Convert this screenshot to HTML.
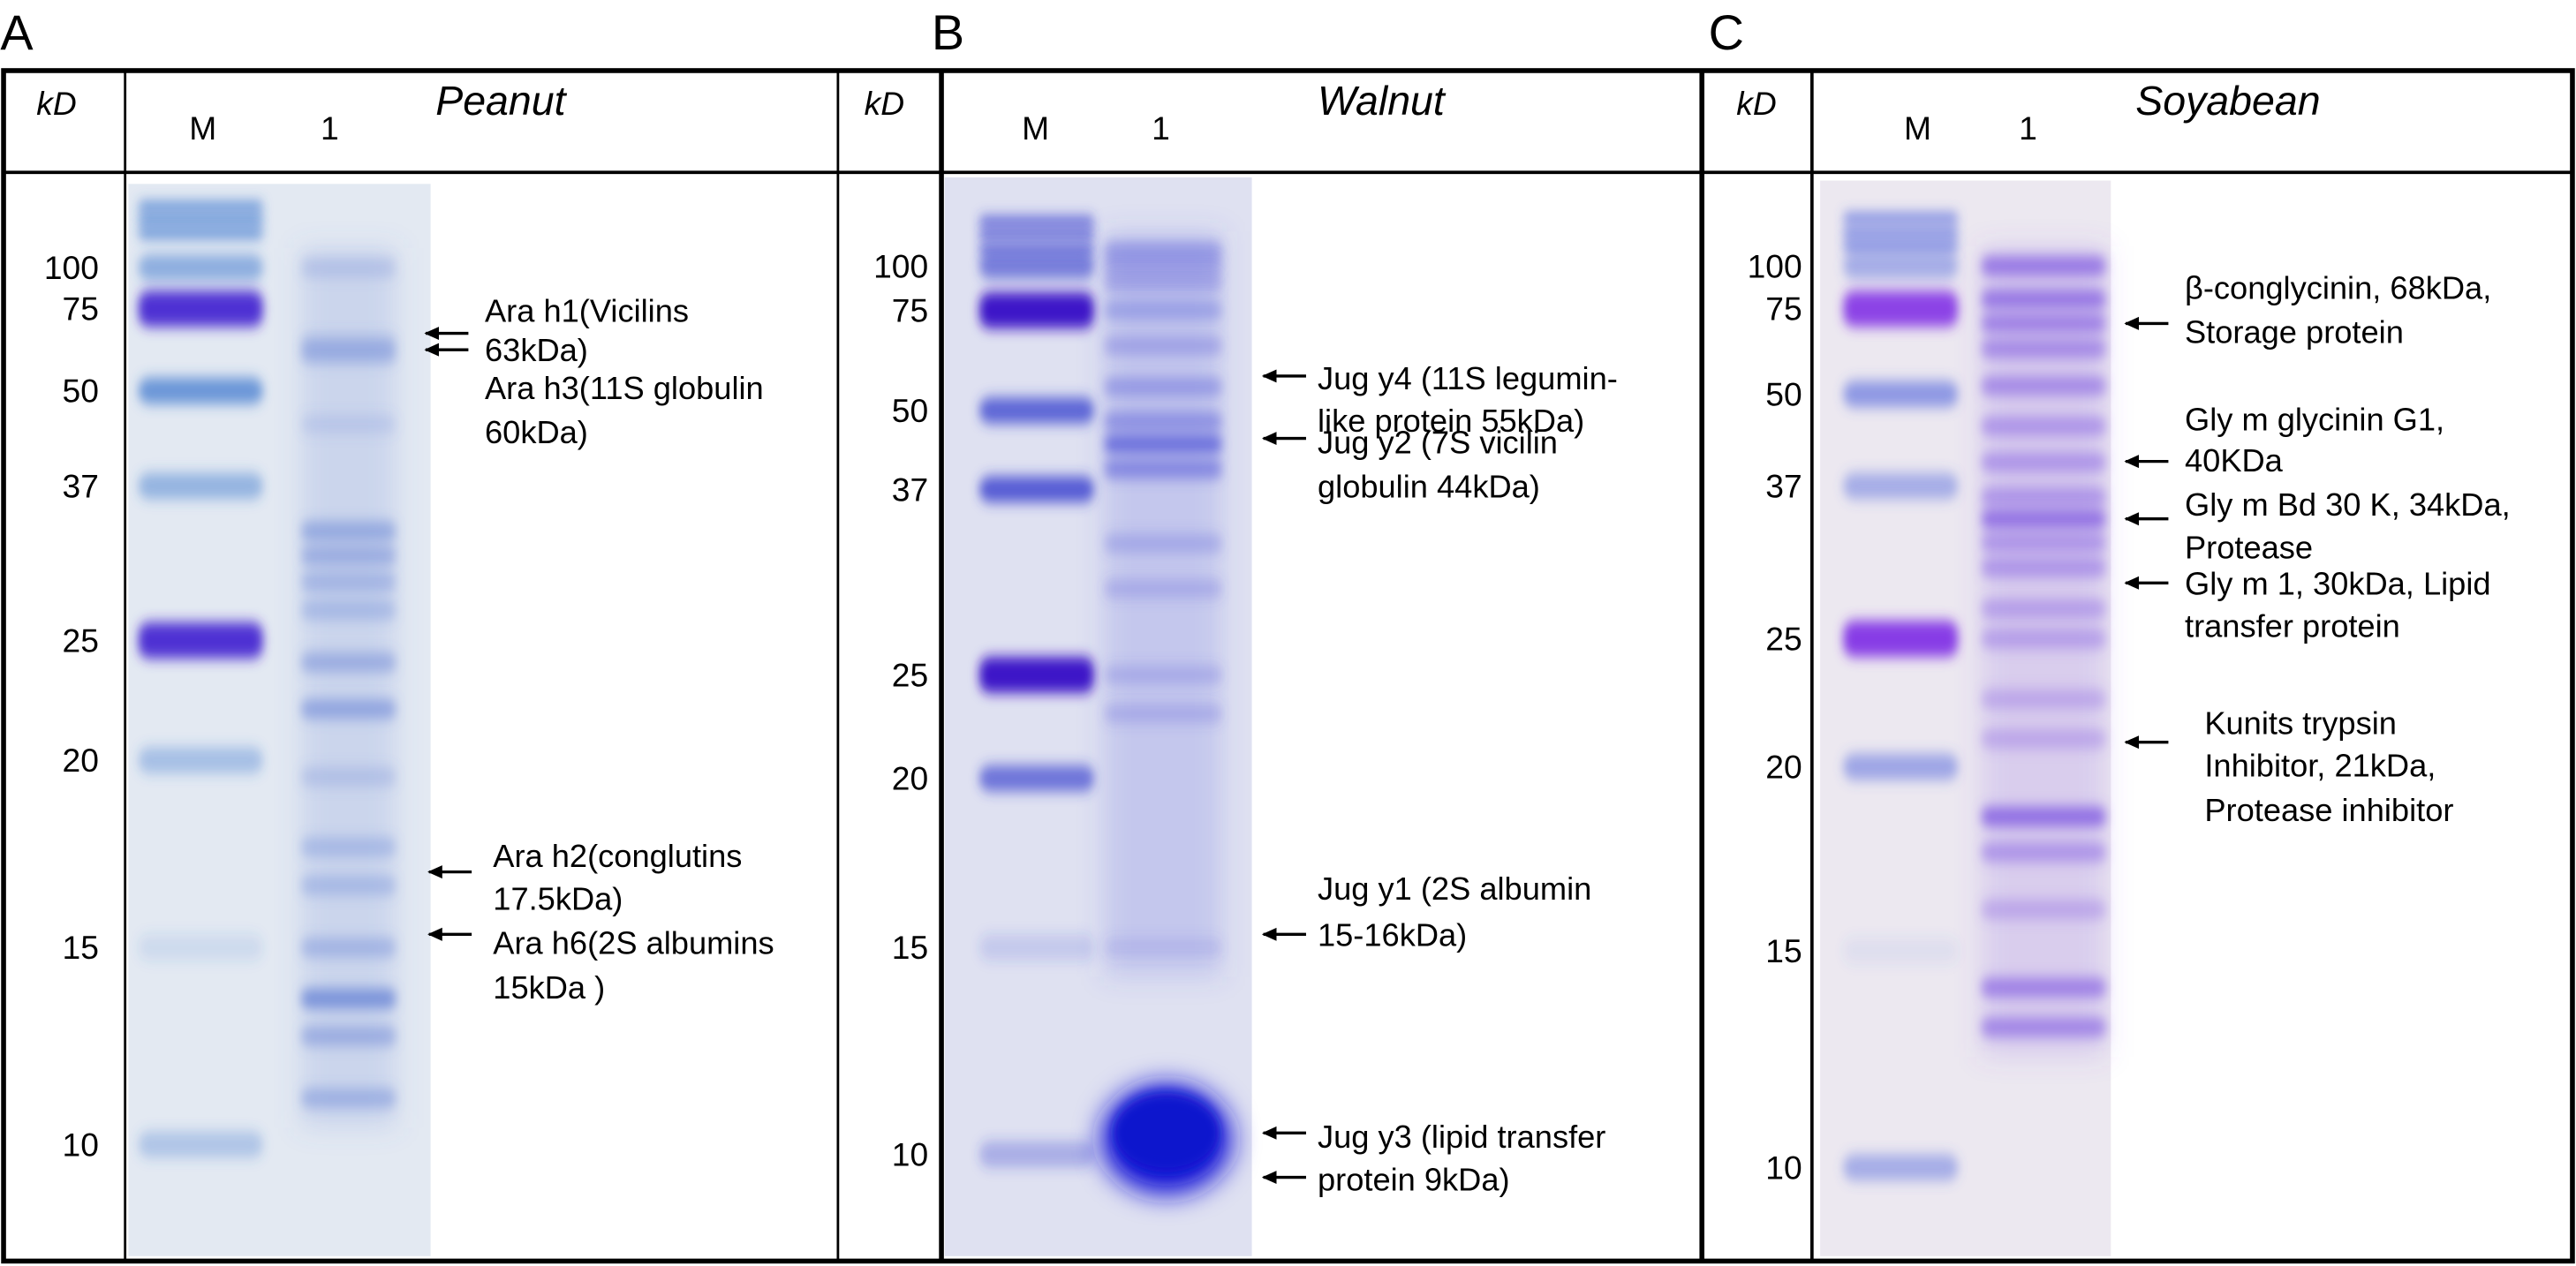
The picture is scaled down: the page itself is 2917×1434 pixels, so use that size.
<!DOCTYPE html>
<html><head><meta charset="utf-8"><style>
html,body{margin:0;padding:0;background:#fff;overflow:hidden}
svg{display:block}
text{font-family:"Liberation Sans",sans-serif;fill:#000}
</style></head><body>
<svg id="fig" width="2917" height="1434" viewBox="0 0 1568 771" xmlns="http://www.w3.org/2000/svg">
<defs>
<filter id="bl" x="-20%" y="-300%" width="140%" height="700%"><feGaussianBlur stdDeviation="3 4"/></filter>
<filter id="bl2" x="-30%" y="-100%" width="160%" height="300%"><feGaussianBlur stdDeviation="8"/></filter>
<marker id="ah" viewBox="0 0 10 10" refX="9" refY="5" markerWidth="9" markerHeight="9" markerUnits="userSpaceOnUse" orient="auto"><path d="M0,0.5 L10,5 L0,9.5 Z" fill="#000"/></marker>
</defs>
<g font-size="30">
<text x="0" y="30">A</text>
<text x="567" y="30">B</text>
<text x="1040" y="30">C</text>
</g>
<g id="gels"></g>
<g stroke="#000" fill="none">
<rect x="2" y="43" width="1564" height="725" stroke-width="3"/>
<line x1="2" y1="105" x2="1566" y2="105" stroke-width="2"/>
<line x1="76" y1="43" x2="76" y2="768" stroke-width="1.5"/>
<line x1="510" y1="43" x2="510" y2="768" stroke-width="1.5"/>
<line x1="573" y1="43" x2="573" y2="768" stroke-width="3"/>
<line x1="1036" y1="43" x2="1036" y2="768" stroke-width="3"/>
<line x1="1103" y1="43" x2="1103" y2="768" stroke-width="2"/>
</g>
<g font-size="20">
<text x="22" y="70" font-style="italic">kD</text>
<text x="115" y="85">M</text>
<text x="195" y="85">1</text>
<text x="265" y="70" font-size="25" font-style="italic">Peanut</text>
<text x="526" y="70" font-style="italic">kD</text>
<text x="622" y="85">M</text>
<text x="701" y="85">1</text>
<text x="802" y="70" font-size="25" font-style="italic">Walnut</text>
<text x="1057" y="70" font-style="italic">kD</text>
<text x="1159" y="85">M</text>
<text x="1229" y="85">1</text>
<text x="1300" y="70" font-size="25" font-style="italic">Soyabean</text>
</g>
<g id="ticks" font-size="20" text-anchor="end"></g>
<g id="notes" font-size="19.5"></g>
</svg>
<script>
const NS="http://www.w3.org/2000/svg";
const markerKD=[100,75,50,37,25,20,15,10];
const tickLabels=["100","75","50","37","25","20","15","10"];
const calA=[163,188,238,296,390,463,577,697];
const calB=[162,189,250,298,411,474,577,703];
const calC=[162,188,240,296,389,467,579,711];
const markerStrA=[0.5,0.95,0.7,0.45,0.95,0.35,0.12,0.3];
const markerStrB=[0.6,1.0,0.75,0.8,1.0,0.65,0.15,0.3];
const markerStrC=[0.45,0.9,0.6,0.45,0.95,0.5,0.08,0.45];
const sampleA=[[100,0.3],[63,0.35],[60,0.45],[45,0.2],[33,0.6],[31,0.55],[29,0.45],[27,0.4],[24,0.55],[22,0.65],[19.5,0.3],[17.5,0.4],[16.5,0.4],[15,0.45],[13.5,0.9],[12.5,0.55],[11,0.5]];
const sampleB=[[110,0.5],[100,0.4],[90,0.4],[75,0.45],[65,0.4],[55,0.5],[48,0.6],[44,0.95],[40,0.7],[33,0.35],[30,0.3],[25,0.3],[23,0.3],[15,0.18]];
const blobB=[10.3];
const sampleC=[[100,0.9],[80,0.9],[70,0.8],[62,0.7],[52,0.7],[45,0.6],[40,0.6],[36,0.6],[34,0.95],[32,0.6],[30,0.6],[27,0.5],[25,0.5],[22.5,0.4],[21,0.4],[18.5,1.0],[17.5,0.6],[16,0.4],[14,0.8],[13,0.75]];
function axis(cal){return kd=>{const k=markerKD;if(kd>=k[0])return cal[0]-(Math.log(kd)-Math.log(k[0]))/(Math.log(k[0])-Math.log(k[1]))*(cal[1]-cal[0]);
for(let i=0;i<k.length-1;i++){if(kd<=k[i]&&kd>=k[i+1]){const t=(Math.log(k[i])-Math.log(kd))/(Math.log(k[i])-Math.log(k[i+1]));return cal[i]+t*(cal[i+1]-cal[i]);}}
const n=k.length-1;return cal[n]+(Math.log(k[n])-Math.log(kd))/(Math.log(k[n-1])-Math.log(k[n]))*(cal[n]-cal[n-1]);};}
function el(t,a,p){const e=document.createElementNS(NS,t);for(const k in a)e.setAttribute(k,a[k]);p.appendChild(e);return e;}
const gels=document.getElementById("gels"),ticks=document.getElementById("ticks");
const panels=[
 {id:"a",cal:calA,ms:markerStrA,s:sampleA,gx:78,gw:184,gy:112,bg:"#e3e9f2",mx:84,mw:76,sx:183,sw:58,mc:[55,115,205],mc2:[70,40,210],sc:[90,120,210],tx:60,top:[126,134,142]},
 {id:"b",cal:calB,ms:markerStrB,s:sampleB,gx:575,gw:187,gy:108,bg:"#dfe1f1",mx:596,mw:70,sx:672,sw:72,mc:[50,60,205],mc2:[60,20,200],sc:[80,85,215],tx:565,top:[135,143,152]},
 {id:"c",cal:calC,ms:markerStrC,s:sampleC,gx:1108,gw:177,gy:110,bg:"#ece8f0",mx:1122,mw:70,sx:1206,sw:76,mc:[80,100,220],mc2:[130,50,230],sc:[125,85,225],tx:1097,top:[133,142,150]}];
panels.forEach(P=>{
 const y=axis(P.cal);
 const g=el("g",{},gels);
 
 
 el("rect",{x:P.gx,y:P.gy,width:P.gw,height:765-P.gy,fill:P.bg},g);
 el("rect",{x:P.sx,y:y(P.s[0][0])-12,width:P.sw,height:y(P.s[P.s.length-1][0])-y(P.s[0][0])+30,fill:`rgba(${P.sc.join(",")},0.18)`,filter:"url(#bl2)"},g);
 P.top.forEach(ty=>{const b=el("rect",{x:P.mx,y:ty-3,width:P.mw,height:6,rx:3,fill:`rgba(${P.mc.join(",")},0.8)`,filter:"url(#bl)"},g);
  });
 markerKD.forEach((kd,i)=>{const yy=y(kd);const st=P.ms[i];const c=(kd==75||kd==25)?P.mc2:P.mc;const h=(kd==75||kd==25)?22:16;
  const b=el("rect",{x:P.mx,y:yy-h/2,width:P.mw,height:h,rx:7,fill:`rgba(${c.join(",")},${st})`,filter:"url(#bl)"},g);
  
  const t=el("text",{x:P.tx,y:yy+7},ticks);t.textContent=tickLabels[i];
  });
 P.s.forEach(([kd,st])=>{const yy=y(kd);const h=12;
  const b=el("rect",{x:P.sx,y:yy-h/2,width:P.sw,height:h,rx:5,fill:`rgba(${P.sc.join(",")},${st*0.8})`,filter:"url(#bl)"},g);
  });
 if(P.id=="b"){blobB.forEach(kd=>{const yy=y(kd);
  const b=el("ellipse",{cx:P.sx+P.sw/2+2,cy:yy,rx:P.sw/2+4,ry:34,fill:"rgb(20,25,215)",filter:"url(#bl2)"},g);
  
  const b2=el("ellipse",{cx:P.sx+P.sw/2+2,cy:yy-4,rx:P.sw/2-4,ry:24,fill:"rgb(15,20,205)",filter:"url(#bl)"},g);
  });}
});
const notes=document.getElementById("notes");
const arrows=[[285,203],[285,213],[287,531],[287,569],[795,229],[795,267],[795,569],[795,690],[795,717],[1320,197],[1320,281],[1320,316],[1320,355],[1320,452]];
arrows.forEach(([x,yy])=>{const l=el("line",{x1:x,y1:yy,x2:x-26,y2:yy,stroke:"#000","stroke-width":1.8,"marker-end":"url(#ah)"},notes);
 });
const labels=[[295,196,"Ara h1(Vicilins"],[295,220,"63kDa)"],[295,243,"Ara h3(11S globulin"],[295,270,"60kDa)"],
[300,528,"Ara h2(conglutins"],[300,554,"17.5kDa)"],[300,581,"Ara h6(2S albumins"],[300,608,"15kDa )"],
[802,237,"Jug y4 (11S legumin-"],[802,263,"like protein 55kDa)"],[802,276,"Jug y2 (7S vicilin"],[802,303,"globulin 44kDa)"],
[802,548,"Jug y1 (2S albumin"],[802,576,"15-16kDa)"],[802,699,"Jug y3 (lipid transfer"],[802,725,"protein 9kDa)"],
[1330,182,"β-conglycinin, 68kDa,"],[1330,209,"Storage protein"],[1330,262,"Gly m glycinin G1,"],[1330,287,"40KDa"],
[1330,314,"Gly m Bd 30 K, 34kDa,"],[1330,340,"Protease"],[1330,362,"Gly m 1, 30kDa, Lipid"],[1330,388,"transfer protein"],
[1342,447,"Kunits trypsin"],[1342,473,"Inhibitor, 21kDa,"],[1342,500,"Protease inhibitor"]];
labels.forEach(([x,yy,s])=>{const t=el("text",{x:x,y:yy},notes);t.textContent=s;
 });
</script>
</body></html>
